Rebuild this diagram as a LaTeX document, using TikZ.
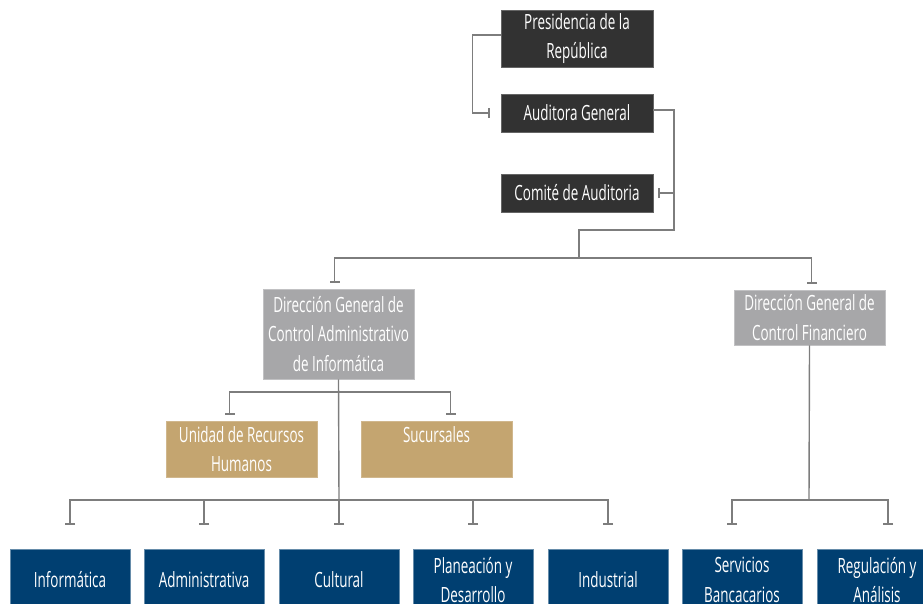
\documentclass[tikz,border=0pt]{standalone}
\usepackage{fontspec}
\setmainfont{Open Sans}[FakeStretch=0.64]
\usetikzlibrary{arrows.meta}

\definecolor{oscuro}{RGB}{50,50,50}
\definecolor{gris}{RGB}{167,167,169}
\definecolor{arena}{RGB}{196,165,112}
\definecolor{marino}{RGB}{0,63,113}
\definecolor{linea}{RGB}{125,125,125}

\tikzset{
  caja/.style={align=center, text=white, inner sep=2pt, line width=0.8pt,
    font=\fontsize{21}{29.5}\selectfont},
  alta/.style={caja, fill=oscuro, draw=oscuro!75!white, minimum width=152},
  media/.style={caja, fill=gris, draw=gris!70!white, minimum width=151},
  apoyo/.style={caja, fill=arena, draw=arena!80!white, minimum width=151, minimum height=56},
  area/.style={caja, fill=marino, draw=marino!60!white, minimum width=120, minimum height=62},
  conector/.style={draw=linea, line width=1.4pt},
  tope/.style={-{Bar[width=10pt]}}
}

\begin{document}
\begin{tikzpicture}[x=1pt,y=-1pt]
      \useasboundingbox (0,0) rectangle (923,603);

      \node[alta,minimum height=57] (1) at (577,38.5) {Presidencia de la\\República};
      \node[alta,minimum height=38] (2) at (577,113) {Auditora General};
      \node[alta,minimum height=38] (3) at (577,193) {Comité de Auditoria};
      \node[media,minimum height=90] (4) at (338.5,334) {Dirección General de\\Control Administrativo\\de Informática};
      \node[media,minimum height=55] (5) at (809.5,317.5) {Dirección General de\\Control Financiero};
      \node[apoyo] (6) at (241.5,449) {Unidad de Recursos\\Humanos};
      \node[apoyo] (7) at (436.5,449) {Sucursales\\\mbox{}};
      \node[area] (8) at (70,580) {Informática};
      \node[area] (9) at (204,580) {Administrativa};
      \node[area] (10) at (339,580) {Cultural};
      \node[area] (11) at (473,580) {Planeación y\\Desarrollo};
      \node[area] (12) at (608,580) {Industrial};
      \node[area] (13) at (742,580) {Servicios\\Bancacarios};
      \node[area] (14) at (877,580) {Regulación y\\Análisis};

      \coordinate (a1) at (674,230);
      \coordinate (a2) at (579,258);
      \coordinate (a3) at (339,392);
      \coordinate (a4) at (339,500);
      \coordinate (a5) at (809,500);

      \draw[conector,tope,shorten >=11pt] ([yshift=3.5]1.west) -- ++(-28,0) |- (2.west);
      \draw[conector] ([yshift=3]2.east) -| (a1) -| (a2);
      \draw[conector,tope,shorten >=5pt] (a1 |- 3.east) -- (3.east);
      \draw[conector,tope,shorten >=6pt] (a2) -| ([xshift=-4]4.north);
      \draw[conector,tope,shorten >=6pt] (a2) -| ([xshift=2]5.north);

      \draw[conector] (4.south) -- (a4);
      \draw[conector,tope,shorten >=6pt] (a3) -| ([xshift=-12]6.north);
      \draw[conector,tope,shorten >=6pt] (a3) -| ([xshift=14]7.north);
      \foreach \n in {8,...,12}
        \draw[conector,tope,shorten >=24pt] (a4) -| (\n.north);

      \draw[conector] (5.south) -- (a5);
      \draw[conector,tope,shorten >=24pt] (a5) -| ([xshift=-10]13.north);
      \draw[conector,tope,shorten >=24pt] (a5) -| ([xshift=11]14.north);
    \end{tikzpicture}
\end{document}
